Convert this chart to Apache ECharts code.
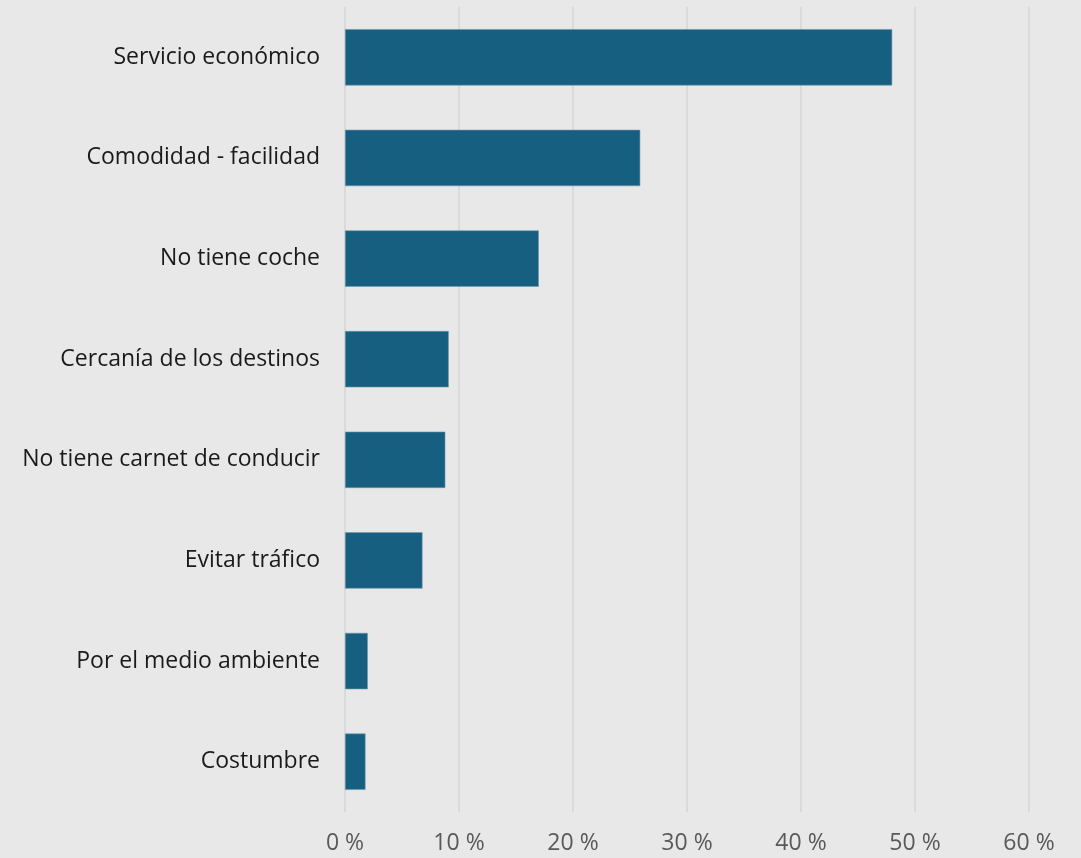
<!DOCTYPE html>
<html>
<head>
<meta charset="utf-8">
<script src="https://cdn.jsdelivr.net/npm/echarts@6/dist/echarts.min.js"></script>
<style>
html,body{margin:0;padding:0;background:#e8e8e8;}
#chart{width:1081px;height:858px;}
</style>
</head>
<body>
<div id="chart"></div>
<script>
const categories = ["Servicio económico","Comodidad - facilidad","No tiene coche","Cercanía de los destinos","No tiene carnet de conducir","Evitar tráfico","Por el medio ambiente","Costumbre"];
const values = [48.0, 25.9, 17.0, 9.1, 8.8, 6.8, 2.0, 1.8];
const xTicks = [0, 10, 20, 30, 40, 50, 60];

const chart = echarts.init(document.getElementById('chart'));
chart.setOption({
  backgroundColor: '#e8e8e8',
  animation: false,
  grid: {left: 345, right: 52, top: 7, bottom: 46, containLabel: false},
  xAxis: {
    type: 'value', min: xTicks[0], max: xTicks[xTicks.length-1], interval: 10,
    axisLine: {show: false}, axisTick: {show: false},
    splitLine: {show: true, lineStyle: {color: '#d6d6d6', width: 1.5}},
    axisLabel: {formatter: v => v + ' %', fontFamily: 'Open Sans', fontSize: 23, color: '#595959', margin: 20}
  },
  yAxis: {
    type: 'category', data: categories, inverse: true,
    axisLine: {show: false}, axisTick: {show: false},
    axisLabel: {fontFamily: 'Open Sans', fontSize: 23, color: '#1a1a1a', margin: 25}
  },
  series: [{
    type: 'bar', data: values, barCategoryGap: '44%',
    itemStyle: {color: '#175f80', borderColor: '#6f98ad', borderWidth: 0.6}
  }]
});
</script>
</body>
</html>
